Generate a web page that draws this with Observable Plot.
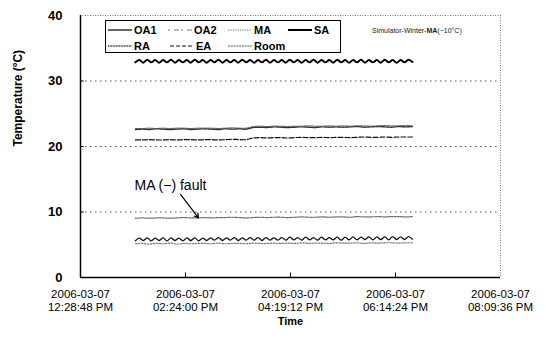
<!DOCTYPE html>
<html>
<head>
<meta charset="utf-8">
<script src="https://cdn.jsdelivr.net/npm/d3@7"></script>
<script src="https://cdn.jsdelivr.net/npm/@observablehq/plot@0.6"></script>
<style>
  body { margin: 0; background: #fff; }
  #wrap { position: relative; width: 546px; height: 345px; font-family: "Liberation Sans", Arial, sans-serif; }
  #legend { position: absolute; left: 105px; top: 20px; width: 234px; height: 31px; border: 1px solid #000; background: #fff; }
  .item { position: absolute; display: flex; align-items: center; font-size: 11px; font-weight: bold; height: 12px; line-height: 12px; }
  .item svg { margin-right: 2px; }
  #note { position: absolute; left: 372px; top: 27px; font-size: 7px; color: #222; white-space: nowrap; }
</style>
</head>
<body>
<div id="wrap">
  <div id="legend"></div>
  <div id="note">Simulator-Winter-<b>MA</b>(−10°C)</div>
</div>
<script>
// ---- data ----
const axisStart = "2006-03-07T12:28:48Z";
const axisEnd = "2006-03-07T20:09:36Z";
const tickTimes = ["2006-03-07T12:28:48Z", "2006-03-07T14:24:00Z", "2006-03-07T16:19:12Z", "2006-03-07T18:14:24Z", "2006-03-07T20:09:36Z"];
const yTicks = [0, 10, 20, 30, 40];
const gridValues = [10, 20, 30];
const seriesStart = "2006-03-07T13:29:00Z";
const seriesEnd = "2006-03-07T18:33:00Z";
const seriesNames = ["OA1", "OA2", "MA", "SA", "RA", "EA", "Room"];

const saTemp = [32.85,33.2,32.8,33.25,32.85,33.2,32.8,33.2,32.85,33.25,32.8,33.2,32.85,33.2,32.8,33.25,32.85,33.2,32.8,33.2,32.85,33.25,32.8,33.2,32.85,33.2,32.8,33.25,32.85,33.2,32.8,33.2,32.85,33.25,32.8,33.2,32.85,33.2,32.8,33.25,32.85,33.2,32.8,33.2,32.85,33.25,32.8,33.2,32.85,33.2,32.8,33.25,32.85,33.2,32.8,33.2,32.85,33.25,32.8,33.2,32.85,33.2,32.8,33.25,32.85,33.2,32.8,33.2,32.85,33.25,32.9];
const oa1Temp = [5.6,6.0,5.65,6.05,5.6,6.0,5.65,6.05,5.6,6.05,5.65,6.0,5.6,6.05,5.65,6.05,5.6,6.0,5.65,6.05,5.7,6.1,5.65,6.05,5.7,6.1,5.65,6.05,5.7,6.1,5.7,6.1,5.65,6.1,5.7,6.05,5.7,6.1,5.7,6.15,5.75,6.1,5.7,6.15,5.75,6.1,5.7,6.15,5.75,6.1,5.75,6.15,5.7,6.15,5.75,6.2,5.75,6.15,5.8,6.2,5.75,6.2,5.8,6.2,5.75,6.25,5.8,6.2,5.8,6.25,5.85];
const oa2Temp = [5.15,5.2,5.1,5.2,5.15,5.25,5.1,5.2,5.15,5.2,5.2,5.15,5.25,5.15,5.2,5.2,5.15,5.25,5.2,5.2,5.25,5.2,5.25,5.2,5.3,5.2,5.25,5.25,5.2,5.3,5.25,5.25,5.3,5.2,5.3,5.25,5.3,5.3,5.25,5.3,5.3];
const maTemp = [9.05,9.1,9.05,9.1,9.1,9.05,9.1,9.15,9.1,9.1,9.15,9.1,9.15,9.15,9.2,9.15,9.1,9.15,9.2,9.15,9.2,9.2,9.15,9.2,9.25,9.2,9.2,9.25,9.2,9.25,9.25,9.2,9.3,9.25,9.25,9.3,9.25,9.3,9.3,9.25,9.3];
const raTemp = [22.6,22.65,22.6,22.7,22.65,22.6,22.65,22.7,22.6,22.65,22.7,22.65,22.6,22.7,22.65,22.7,22.65,22.9,22.95,22.9,23.0,22.95,22.9,22.95,23.0,22.95,22.9,23.0,22.95,23.0,22.95,23.0,23.05,22.95,23.0,23.05,23.0,22.95,23.05,23.0,23.05];
const roomTemp = [22.75,22.75,22.8,22.75,22.8,22.75,22.8,22.8,22.75,22.8,22.8,22.8,22.75,22.8,22.85,22.8,22.8,23.05,23.1,23.05,23.1,23.1,23.05,23.1,23.1,23.15,23.1,23.1,23.15,23.1,23.15,23.1,23.15,23.15,23.1,23.15,23.2,23.15,23.15,23.2,23.15];
const eaTemp = [21.0,21.0,21.05,21.0,21.0,21.05,21.0,21.05,21.05,21.0,21.05,21.05,21.0,21.05,21.1,21.05,21.05,21.3,21.35,21.3,21.35,21.35,21.3,21.35,21.4,21.35,21.35,21.4,21.35,21.4,21.4,21.35,21.4,21.45,21.4,21.4,21.45,21.4,21.45,21.45,21.45];

const faultLabel = {text: "MA (−) fault", time: "2006-03-07T14:07:30Z", temp: 14.0};
const faultArrow = {t1: "2006-03-07T14:18:30Z", v1: 12.7, t2: "2006-03-07T14:38:15Z", v2: 9.1};

// ---- build ----
const t0 = new Date(seriesStart), t1 = new Date(seriesEnd);
function series(name, values) {
  const n = values.length;
  return values.map((v, i) => ({name, time: new Date(+t0 + (t1 - t0) * i / (n - 1)), temp: v}));
}
const styles = {
  OA1: {stroke: "#111", strokeWidth: 1.3, dash: null},
  OA2: {stroke: "#777", strokeWidth: 1.2, dash: "1.5,1.5"},
  MA: {stroke: "#666", strokeWidth: 1.2, dash: "1.5,1.2"},
  SA: {stroke: "#000", strokeWidth: 2, dash: null},
  RA: {stroke: "#333", strokeWidth: 1.4, dash: "2,0.8"},
  EA: {stroke: "#111", strokeWidth: 1.2, dash: "5,2"},
  Room: {stroke: "#555", strokeWidth: 1, dash: "3,1"}
};
const legendDash = {OA1: null, OA2: "2,4,5,2", MA: "1.2,1.2", SA: null, RA: "1,0.6", EA: "4,2", Room: "2,0.8"};
const data = {
  OA1: series("OA1", oa1Temp), OA2: series("OA2", oa2Temp), MA: series("MA", maTemp),
  SA: series("SA", saTemp), RA: series("RA", raTemp), EA: series("EA", eaTemp), Room: series("Room", roomTemp)
};
const xs = new Date(axisStart), xe = new Date(axisEnd);
const pad = n => String(n).padStart(2, "0");
function fmtDate(d) {
  return `${d.getUTCFullYear()}-${pad(d.getUTCMonth() + 1)}-${pad(d.getUTCDate())}`;
}
function fmtTime(d) {
  let h = d.getUTCHours();
  const ap = h >= 12 ? "PM" : "AM";
  h = h % 12; if (h === 0) h = 12;
  return `${pad(h)}:${pad(d.getUTCMinutes())}:${pad(d.getUTCSeconds())} ${ap}`;
}
const tickDates = tickTimes.map(t => new Date(t));
const innerTicks = tickDates.slice(1, 4);

const lineMarks = seriesNames.map(name => Plot.line(data[name], {
  x: "time", y: "temp", stroke: styles[name].stroke, strokeWidth: styles[name].strokeWidth,
  strokeDasharray: styles[name].dash, curve: "catmull-rom"
}));

const chart = Plot.plot({
  width: 546, height: 345,
  marginLeft: 80, marginRight: 46, marginTop: 15, marginBottom: 68,
  style: {fontFamily: "'Liberation Sans', Arial, sans-serif", background: "transparent", overflow: "visible"},
  x: {type: "utc", domain: [xs, xe]},
  y: {domain: [0, 40]},
  marks: [
    Plot.ruleY(gridValues, {stroke: "#555", strokeDasharray: "1.5,3.5", strokeWidth: 1}),
    Plot.ruleY([40], {stroke: "#777", strokeDasharray: "1,1.5", strokeWidth: 1}),
    Plot.ruleX([xe], {stroke: "#777", strokeDasharray: "1,1.5", strokeWidth: 1}),
    Plot.ruleX(innerTicks, {y1: 0, y2: 0.7, stroke: "#000"}),
    Plot.ruleY(gridValues, {x1: xs, x2: new Date(+xs + 4 * 60000), stroke: "#000"}),
    ...lineMarks,
    Plot.ruleX([xs], {stroke: "#000", strokeWidth: 1.5}),
    Plot.ruleY([0], {stroke: "#000", strokeWidth: 1.5}),
    Plot.axisY({ticks: yTicks, tickSize: 0, tickPadding: 18, fontSize: 13, fontWeight: "bold", label: null}),
    Plot.axisX({ticks: tickDates, tickFormat: fmtDate, tickSize: 0, tickPadding: 12, fontSize: 11.5, label: null, letterSpacing: "0.9px"}),
    Plot.axisX({ticks: tickDates, tickFormat: fmtTime, tickSize: 0, tickPadding: 25, fontSize: 11.5, label: null, letterSpacing: "0.9px"}),
    Plot.text(["Time"], {frameAnchor: "bottom", dy: 47, fontSize: 11, fontWeight: "bold"}),
    Plot.text(["Temperature (°C)"], {frameAnchor: "left", rotate: -90, dx: -62, dy: 0, fontSize: 12, fontWeight: "bold"}),
    Plot.text([faultLabel], {x: d => new Date(d.time), y: "temp", text: "text", fontSize: 14}),
    Plot.arrow([faultArrow], {x1: d => new Date(d.t1), y1: "v1", x2: d => new Date(d.t2), y2: "v2", stroke: "#000", strokeWidth: 1.2, headLength: 6})
  ]
});
const wrap = document.getElementById("wrap");
wrap.insertBefore(chart, wrap.firstChild);
chart.style.position = "absolute"; chart.style.left = "0"; chart.style.top = "0";

// legend
const legendPos = {
  OA1: [2, 3], OA2: [62, 3], MA: [122, 3], SA: [182, 3],
  RA: [2, 19], EA: [64, 19], Room: [122, 19]
};
const legend = document.getElementById("legend");
for (const name of seriesNames) {
  const s = styles[name];
  const dash = legendDash[name];
  const el = document.createElement("div");
  el.className = "item";
  el.style.left = legendPos[name][0] + "px";
  el.style.top = legendPos[name][1] + "px";
  el.innerHTML = `<svg width="24" height="6"><line x1="0" y1="3" x2="24" y2="3" stroke="${s.stroke}" stroke-width="${s.strokeWidth}" ${dash ? `stroke-dasharray="${dash}"` : ""}/></svg>${name}`;
  legend.appendChild(el);
}
</script>
</body>
</html>
